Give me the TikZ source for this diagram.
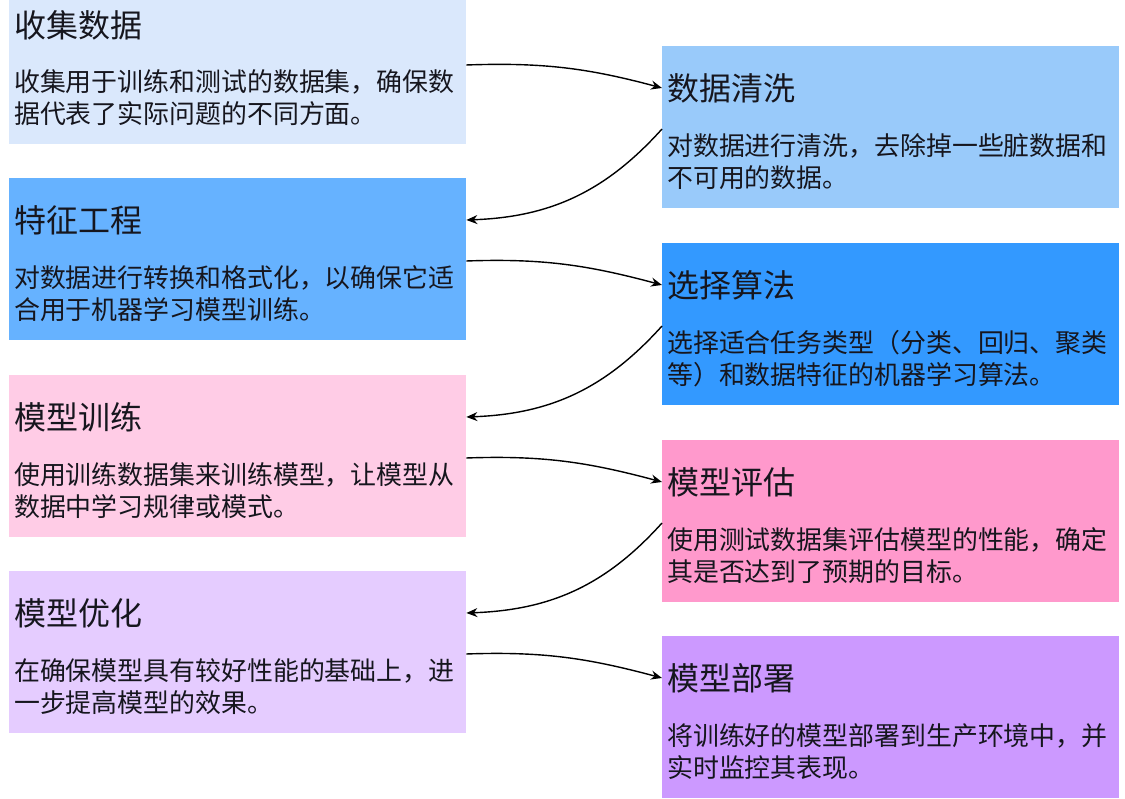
\documentclass[tikz,border=0pt]{standalone}
\usepackage{fontspec}
\setmainfont{Noto Sans CJK SC}
\usepackage{tikz}
\usetikzlibrary{arrows.meta, positioning, calc}
\usepackage{xcolor}
\definecolor{paleblue}{RGB}{218,232,252}
\definecolor{skyblue}{RGB}{153,202,250}
\definecolor{midblue}{RGB}{102,178,255}
\definecolor{deepblue}{RGB}{51,153,255}
\definecolor{palepink}{RGB}{255,204,230}
\definecolor{hotpink}{RGB}{255,153,204}
\definecolor{palelilac}{RGB}{229,204,255}
\definecolor{lilac}{RGB}{204,153,255}
\definecolor{inkdark}{RGB}{22,22,30}

\begin{document}
\begin{tikzpicture}[x=1pt, y=1pt,
  stagebox/.style={rectangle, anchor=north west, minimum width=457pt, minimum height=162pt, inner sep=0pt, draw=none},
  stagetitle/.style={anchor=west, inner sep=0pt, text=inkdark, font=\fontsize{32}{36}\selectfont},
  stagebody/.style={anchor=north west, inner sep=0pt, align=left, text=inkdark, font=\fontsize{25.9}{32}\selectfont},
  flow/.style={line width=1.4pt, -{Stealth[length=11pt,width=9pt]}}]
  \useasboundingbox (0,0) rectangle (1125,799);
  \fill[white] (0,0) rectangle (1125,799);
  % left column
  \node[stagebox, fill=paleblue] (collect) at (9,817) {};
  \node[stagebox, fill=midblue] (feature) at (9,621) {};
  \node[stagebox, fill=palepink] (train) at (9,424) {};
  \node[stagebox, fill=palelilac] (optimize) at (9,228) {};
  % right column
  \node[stagebox, fill=skyblue] (clean) at (662,753) {};
  \node[stagebox, fill=deepblue] (algo) at (662,556) {};
  \node[stagebox, fill=hotpink] (evaluate) at (662,359) {};
  \node[stagebox, fill=lilac] (deploy) at (662,163) {};

  \node[stagetitle] (collectT) at ([shift={(5,-43)}]collect.north west) {收集数据};
  \node[stagebody] (collectB) at ([shift={(5,-87)}]collect.north west) {收集用于训练和测试的数据集，确保数\\据代表了实际问题的不同方面。};
  \node[stagetitle] (cleanT) at ([shift={(5,-42)}]clean.north west) {数据清洗};
  \node[stagebody] (cleanB) at ([shift={(5,-87)}]clean.north west) {对数据进行清洗，去除掉一些脏数据和\\不可用的数据。};
  \node[stagetitle] (featureT) at ([shift={(5,-42)}]feature.north west) {特征工程};
  \node[stagebody] (featureB) at ([shift={(5,-87)}]feature.north west) {对数据进行转换和格式化，以确保它适\\合用于机器学习模型训练。};
  \node[stagetitle] (algoT) at ([shift={(5,-42)}]algo.north west) {选择算法};
  \node[stagebody] (algoB) at ([shift={(5,-87)}]algo.north west) {选择适合任务类型（分类、回归、聚类\\等）和数据特征的机器学习算法。};
  \node[stagetitle] (trainT) at ([shift={(5,-42)}]train.north west) {模型训练};
  \node[stagebody] (trainB) at ([shift={(5,-87)}]train.north west) {使用训练数据集来训练模型，让模型从\\数据中学习规律或模式。};
  \node[stagetitle] (evaluateT) at ([shift={(5,-42)}]evaluate.north west) {模型评估};
  \node[stagebody] (evaluateB) at ([shift={(5,-87)}]evaluate.north west) {使用测试数据集评估模型的性能，确定\\其是否达到了预期的目标。};
  \node[stagetitle] (optimizeT) at ([shift={(5,-42)}]optimize.north west) {模型优化};
  \node[stagebody] (optimizeB) at ([shift={(5,-87)}]optimize.north west) {在确保模型具有较好性能的基础上，进\\一步提高模型的效果。};
  \node[stagetitle] (deployT) at ([shift={(5,-42)}]deploy.north west) {模型部署};
  \node[stagebody] (deployB) at ([shift={(5,-87)}]deploy.north west) {将训练好的模型部署到生产环境中，并\\实时监控其表现。};

  % zig-zag flow
  \draw[flow] ([yshift=-83]collect.north east) to[out=2, in=165] (clean.west |- cleanT);
  \draw[flow] ([yshift=-83]clean.north west) to[out=228, in=2] (feature.east |- featureT);
  \draw[flow] ([yshift=-83]feature.north east) to[out=2, in=165] (algo.west |- algoT);
  \draw[flow] ([yshift=-83]algo.north west) to[out=228, in=2] (train.east |- trainT);
  \draw[flow] ([yshift=-83]train.north east) to[out=2, in=165] (evaluate.west |- evaluateT);
  \draw[flow] ([yshift=-83]evaluate.north west) to[out=228, in=2] (optimize.east |- optimizeT);
  \draw[flow] ([yshift=-83]optimize.north east) to[out=2, in=165] (deploy.west |- deployT);
\end{tikzpicture}
\end{document}
